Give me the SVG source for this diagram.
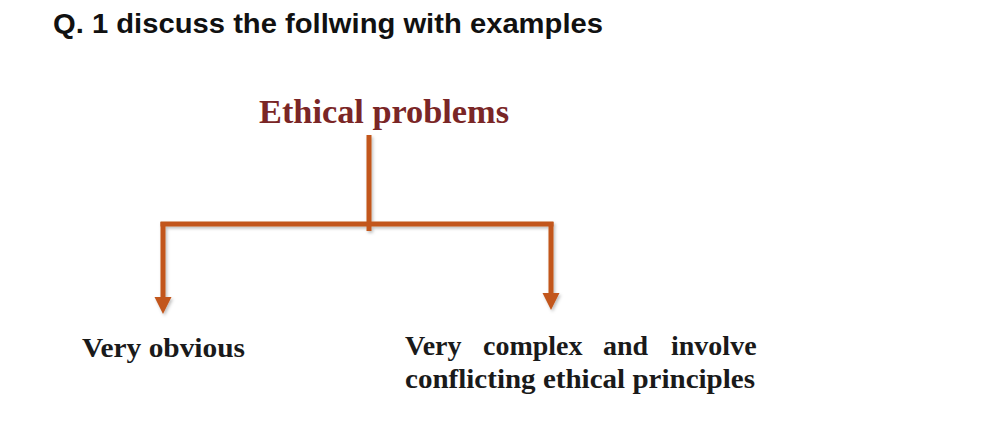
<svg xmlns="http://www.w3.org/2000/svg" width="990" height="433" viewBox="0 0 990 433">
  <defs>
    <style>
      .q { font-family: "Liberation Sans", Arial, sans-serif; font-weight: bold; font-size: 27px; fill: #111; }
      .head { font-family: "Liberation Serif", "Times New Roman", serif; font-weight: bold; font-size: 34px; fill: #7A2626; }
      .leaf { font-family: "Liberation Serif", "Times New Roman", serif; font-weight: bold; font-size: 28px; fill: #1a1a1a; }
      .conn { stroke: #C2571A; stroke-width: 5; fill: none; }
      .tip { fill: #C2571A; }
    </style>
    <filter id="sh" x="-10%" y="-10%" width="120%" height="130%">
      <feDropShadow dx="1.5" dy="2" stdDeviation="1.5" flood-color="#000" flood-opacity="0.25"/>
    </filter>
  </defs>
  <rect width="990" height="433" fill="#ffffff"/>

  <text class="q" x="53" y="33" textLength="550" lengthAdjust="spacingAndGlyphs">Q. 1 discuss the follwing with examples</text>

  <g id="node-ethical">
    <text class="head" x="259" y="123" textLength="250" lengthAdjust="spacingAndGlyphs">Ethical problems</text>
  </g>

  <g id="connectors" filter="url(#sh)">
    <path class="conn" d="M369 135 V231"/>
    <path class="conn" d="M160.5 224 H553.5"/>
    <path class="conn" d="M163 222 V299"/>
    <path class="conn" d="M551 222 V295"/>
    <polygon class="tip" points="154.5,297 171.5,297 163,314"/>
    <polygon class="tip" points="542.5,293 559.5,293 551,310"/>
  </g>

  <g id="node-obvious">
    <text class="leaf" x="82" y="357" textLength="163" lengthAdjust="spacingAndGlyphs">Very obvious</text>
  </g>

  <g id="node-complex">
    <text class="leaf" y="355">
      <tspan x="405">Very</tspan>
      <tspan x="483">complex</tspan>
      <tspan x="603">and</tspan>
      <tspan x="671">involve</tspan>
    </text>
    <text class="leaf" x="405" y="388" textLength="350" lengthAdjust="spacingAndGlyphs">conflicting ethical principles</text>
  </g>
</svg>
